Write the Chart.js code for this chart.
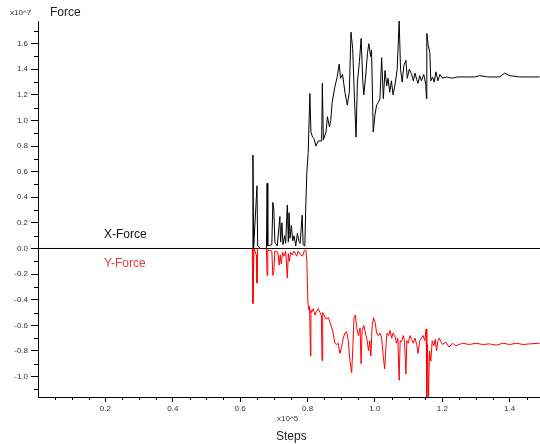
<!DOCTYPE html>
<html>
<head>
<meta charset="utf-8">
<script src="https://cdn.jsdelivr.net/npm/chart.js@4/dist/chart.umd.min.js"></script>
<style>
  body { margin: 0; background: #fff; }
  #wrap { position: relative; width: 540px; height: 444px; }
  .lbl { position: absolute; font-family: "Liberation Sans", Arial, sans-serif; white-space: nowrap; line-height: 1; }
</style>
</head>
<body>
<div id="wrap">
  <canvas id="canvas" width="540" height="444"></canvas>
  <div class="lbl" style="left:10px;top:9px;font-size:8px;color:#333;">x10^7</div>
  <div class="lbl" style="left:50px;top:6px;font-size:12px;color:#222;">Force</div>
  <div class="lbl" style="left:104px;top:228px;font-size:12px;color:#111;">X-Force</div>
  <div class="lbl" style="left:104px;top:257px;font-size:12px;color:#e8383a;">Y-Force</div>
  <div class="lbl" style="left:277px;top:415px;font-size:8px;color:#333;">x10^5</div>
  <div class="lbl" style="left:276px;top:430px;font-size:12px;color:#222;">Steps</div>
</div>
<script>
// steps (x10^5) and force (x10^7)
var xForceSteps = [0, 0.636, 0.638, 0.640, 0.650, 0.652, 0.660, 0.678, 0.680, 0.682, 0.694, 0.697, 0.700, 0.703,
  0.710, 0.718, 0.720, 0.724, 0.727, 0.732, 0.735, 0.740, 0.743, 0.745, 0.748, 0.752, 0.756, 0.760, 0.765,
  0.770, 0.774, 0.778, 0.784, 0.787, 0.792, 0.795, 0.798, 0.802, 0.807, 0.810, 0.815, 0.819, 0.825, 0.832,
  0.842, 0.844, 0.847, 0.855, 0.859, 0.865, 0.869, 0.873, 0.881, 0.888, 0.894, 0.898, 0.904, 0.911, 0.918,
  0.924, 0.929, 0.934, 0.939, 0.944, 0.948, 0.954, 0.959, 0.964, 0.967, 0.972, 0.978, 0.982, 0.987, 0.990,
  0.995, 1.000, 1.005, 1.010, 1.015, 1.020, 1.025, 1.030, 1.035, 1.039, 1.044, 1.049, 1.054, 1.061, 1.066,
  1.072, 1.076, 1.081, 1.086, 1.092, 1.096, 1.102, 1.109, 1.114, 1.119, 1.124, 1.128, 1.133, 1.138, 1.145,
  1.151, 1.153, 1.154, 1.158, 1.163, 1.166, 1.171, 1.176, 1.181, 1.187, 1.193, 1.201, 1.213, 1.228, 1.246,
  1.267, 1.296, 1.311, 1.335, 1.356, 1.370, 1.385, 1.400, 1.430, 1.459, 1.489];
var xForceValues = [0, 0, 0.73, 0.0, 0.49, 0.02, 0.0, 0, 0.51, 0.02, 0.03, 0.36, 0.30, 0.05,
  0.02, 0.25, 0.05, 0.20, 0.03, 0.10, 0.04, 0.34, 0.05, 0.28, 0.08, 0.18, 0.06, 0.10, 0.02,
  0.12, 0.06, 0.04, 0.26, 0.03, 0.02, 0.35, 0.60, 0.75, 1.21, 0.91, 0.87, 0.86, 0.80, 0.84,
  0.84, 1.29, 0.85, 0.91, 1.03, 0.95, 1.00, 1.14, 1.26, 1.34, 1.44, 1.33, 1.36, 1.22, 1.12,
  1.22, 1.69, 1.56, 1.19, 0.87, 1.30, 1.46, 1.64, 1.31, 1.20, 1.33, 1.53, 1.60, 1.50, 1.55,
  0.91, 1.04, 1.12, 1.14, 1.17, 1.49, 1.17, 1.39, 1.27, 1.33, 1.22, 1.31, 1.20, 1.30, 1.40,
  1.78, 1.40, 1.30, 1.43, 1.47, 1.33, 1.40, 1.36, 1.31, 1.37, 1.32, 1.29, 1.35, 1.31, 1.36,
  1.28, 1.17, 1.68, 1.59, 1.53, 1.31, 1.34, 1.30, 1.38, 1.31, 1.36, 1.33, 1.34, 1.33, 1.34,
  1.34, 1.34, 1.35, 1.34, 1.34, 1.34, 1.37, 1.35, 1.34, 1.34, 1.34];

var yForceSteps = [0, 0.636, 0.638, 0.641, 0.648, 0.650, 0.652, 0.678, 0.680, 0.682, 0.694, 0.697, 0.700, 0.703,
  0.712, 0.716, 0.719, 0.722, 0.726, 0.730, 0.735, 0.740, 0.743, 0.746, 0.750, 0.755, 0.760, 0.768, 0.772,
  0.780, 0.785, 0.790, 0.795, 0.798, 0.801, 0.804, 0.805, 0.806, 0.809, 0.810, 0.812, 0.817, 0.822, 0.827,
  0.832, 0.837, 0.841, 0.843, 0.845, 0.849, 0.855, 0.862, 0.867, 0.872, 0.876, 0.881, 0.887, 0.891, 0.896,
  0.901, 0.906, 0.911, 0.916, 0.921, 0.926, 0.931, 0.934, 0.938, 0.942, 0.946, 0.951, 0.956, 0.959, 0.962,
  0.967, 0.972, 0.977, 0.981, 0.985, 0.988, 0.992, 0.996, 1.001, 1.005, 1.010, 1.015, 1.020, 1.025, 1.029,
  1.033, 1.036, 1.041, 1.045, 1.050, 1.054, 1.059, 1.064, 1.068, 1.072, 1.075, 1.079, 1.084, 1.088, 1.092,
  1.095, 1.099, 1.104, 1.109, 1.114, 1.119, 1.124, 1.128, 1.133, 1.138, 1.143, 1.148, 1.152, 1.154, 1.156,
  1.159, 1.162, 1.166, 1.170, 1.175, 1.179, 1.183, 1.187, 1.191, 1.200, 1.210, 1.220, 1.230, 1.240, 1.260,
  1.280, 1.300, 1.320, 1.340, 1.360, 1.380, 1.400, 1.420, 1.440, 1.460, 1.489];
var yForceValues = [0, 0, -0.43, 0.0, -0.05, -0.27, 0.0, 0, -0.21, -0.01, -0.02, -0.21, -0.18, -0.02,
  -0.03, -0.13, -0.05, -0.12, -0.03, -0.06, -0.02, -0.23, -0.04, -0.10, -0.03, -0.05, -0.02, -0.06, -0.02,
  -0.05, -0.06, -0.02, -0.01, -0.10, -0.42, -0.48, -0.45, -0.46, -0.84, -0.48, -0.50, -0.47, -0.52, -0.49,
  -0.47, -0.50, -0.52, -0.875, -0.50, -0.52, -0.55, -0.54, -0.58, -0.62, -0.66, -0.74, -0.75, -0.74, -0.82,
  -0.77, -0.70, -0.66, -0.65, -0.72, -0.88, -0.97, -0.80, -0.54, -0.52, -0.62, -0.68, -0.62, -0.90, -0.64,
  -0.60, -0.66, -0.72, -0.80, -0.72, -0.84, -0.60, -0.54, -0.58, -0.66, -0.68, -0.66, -0.70, -0.85, -0.94,
  -0.76, -0.66, -0.68, -0.64, -0.70, -0.66, -0.68, -0.74, -0.70, -1.03, -0.72, -0.73, -0.68, -0.72, -0.98,
  -0.72, -0.74, -0.68, -0.71, -0.74, -0.70, -0.75, -0.82, -0.72, -0.70, -0.68, -0.72, -0.63, -1.16, -0.75,
  -1.16, -0.80, -0.88, -0.72, -0.76, -0.71, -0.80, -0.72, -0.70, -0.75, -0.73, -0.77, -0.74, -0.76, -0.74,
  -0.75, -0.74, -0.75, -0.745, -0.755, -0.74, -0.75, -0.74, -0.75, -0.745, -0.74];

var xTicks = [0.2, 0.4, 0.6, 0.8, 1.0, 1.2, 1.4];
var yTicks = [-1.0, -0.8, -0.6, -0.4, -0.2, 0.0, 0.2, 0.4, 0.6, 0.8, 1.0, 1.2, 1.4, 1.6];

var toPoints = function(xs, ys) {
  var pts = [];
  for (var i = 0; i < xs.length; i++) {
    pts.push({x: xs[i], y: ys[i]});
  }
  return pts;
};

// small ticks between the labelled ones
var minorTicks = {
  id: 'minorTicks',
  afterDraw: function(chart) {
    var ctx = chart.ctx;
    var xs = chart.scales.x, ys = chart.scales.y;
    ctx.save();
    ctx.strokeStyle = '#000';
    ctx.lineWidth = 1;
    ctx.beginPath();
    for (var v = 0.05; v < xs.max; v += 0.05) {
      var r = Math.round(v * 100);
      if (r % 20 === 0) continue;
      var px = Math.round(xs.getPixelForValue(v)) + 0.5;
      ctx.moveTo(px, ys.bottom);
      ctx.lineTo(px, ys.bottom + 3);
    }
    for (var w = -1.1; w < ys.max; w += 0.2) {
      var py = Math.round(ys.getPixelForValue(w)) + 0.5;
      ctx.moveTo(xs.left - 4, py);
      ctx.lineTo(xs.left, py);
    }
    ctx.stroke();
    ctx.restore();
  }
};

var tickFont = {family: '"Liberation Sans", Arial, sans-serif', size: 8};

var ctx = document.getElementById("canvas").getContext("2d");
window.myChart = new Chart(ctx, {
  type: 'line',
  data: {
    datasets: [{
      label: 'X-Force',
      data: toPoints(xForceSteps, xForceValues),
      borderColor: '#000',
      borderWidth: 1,
      pointRadius: 0,
      tension: 0
    }, {
      label: 'Y-Force',
      data: toPoints(yForceSteps, yForceValues),
      borderColor: '#ff0000',
      borderWidth: 1,
      pointRadius: 0,
      tension: 0
    }]
  },
  options: {
    responsive: false,
    animation: false,
    layout: {padding: {top: 21, right: 0, left: 0, bottom: 0}},
    plugins: {
      legend: {display: false},
      tooltip: {enabled: false}
    },
    scales: {
      x: {
        type: 'linear',
        min: 0,
        max: 1.49,
        afterBuildTicks: function(scale) {
          scale.ticks = xTicks.map(function(v) { return {value: v}; });
        },
        afterFit: function(scale) { scale.height = 47; },
        border: {color: '#000', width: 1},
        grid: {drawOnChartArea: false, tickLength: 5, tickColor: '#000'},
        ticks: {
          font: tickFont,
          color: '#333',
          padding: 2,
          maxRotation: 0,
          callback: function(v) { return v.toFixed(1); }
        }
      },
      y: {
        type: 'linear',
        min: -1.16,
        max: 1.777,
        afterBuildTicks: function(scale) {
          scale.ticks = yTicks.map(function(v) { return {value: v}; });
        },
        afterFit: function(scale) { scale.width = 38; },
        border: {color: '#000', width: 1},
        grid: {
          color: function(c) { return c.tick && c.tick.value === 0 ? '#000' : 'rgba(0,0,0,0)'; },
          lineWidth: 1,
          tickLength: 7,
          tickColor: '#000'
        },
        ticks: {
          font: tickFont,
          color: '#333',
          padding: 3,
          callback: function(v) { return v.toFixed(1); }
        }
      }
    }
  },
  plugins: [minorTicks]
});
</script>
</body>
</html>
